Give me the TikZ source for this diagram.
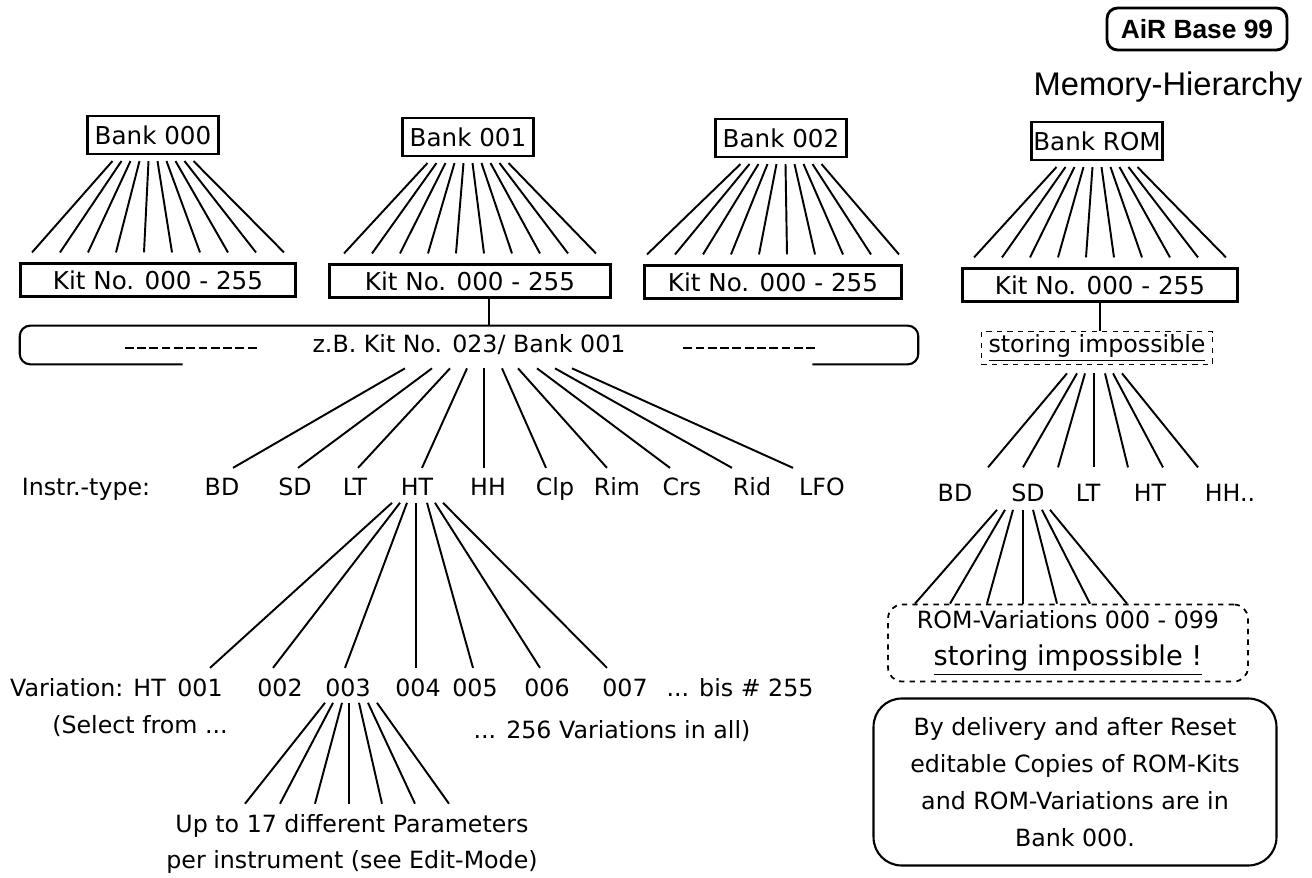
\documentclass[tikz,border=0pt]{standalone}
\usepackage{fontspec}
\setmainfont{DejaVu Sans}
\newfontfamily\headfont{Liberation Sans}
\usetikzlibrary{calc}

\begin{document}
\begin{tikzpicture}[x=0.02cm, y=-0.02cm,
    every node/.style={font=\fontsize{13.5}{21}\selectfont},
    bankbox/.style={draw, line width=1.2pt, minimum width=2.62cm, minimum height=0.76cm, inner sep=0pt, font=\fontsize{14}{16}\selectfont},
    kitbox/.style={draw, line width=1.2pt, minimum width=5.5cm, minimum height=0.66cm, inner sep=0pt, font=\fontsize{14}{16}\selectfont},
    tag/.style={inner sep=0pt, outer ysep=6pt, text height=10pt, text depth=3pt, anchor=base},
    fan/.style={line width=1.1pt},
    dots/.style={line width=0.9pt, dash pattern=on 5pt off 2pt}]
    \useasboundingbox (0,0) rectangle (1312,878);

    % Title
    \node[draw, line width=1.6pt, rounded corners=6pt, minimum width=3.6cm, minimum height=0.84cm, inner sep=0pt, font=\headfont\bfseries\fontsize{15}{18}\selectfont] (title) at (1197,29) {AiR Base 99};
    \node[font=\headfont\fontsize{18.6}{20}\selectfont] (subtitle) at (1168,87) {Memory-Hierarchy};

    % Banks
    \node[bankbox] (b0) at (153,135) {Bank 000};
    \node[bankbox] (b1) at (468,137) {Bank 001};
    \node[bankbox] (b2) at (781,138) {Bank 002};
    \node[bankbox] (brom) at (1097,141) {Bank ROM};

    % Kits
    \node[kitbox] (k0) at (158,280) {Kit No. 000 - 255};
    \node[kitbox, minimum width=5.62cm] (k1) at (470,281) {Kit No. 000 - 255};
    \node[kitbox, minimum width=5.14cm] (k2) at (773,282) {Kit No. 000 - 255};
    \node[kitbox] (krom) at (1100,285) {Kit No. 000 - 255};

    % ten lines from every bank to its kits
    \foreach \b/\k in {b0/k0, b1/k1, b2/k2, brom/krom}
      \foreach \i in {0,...,9}
        \draw[fan] ($(\b.south)+({(\i-4.5)*9},6)$) -- ($(\k.north)+({(\i-4.5)*28},-10)$);

    % Example kit
    \node[minimum width=17.96cm, minimum height=0.76cm, inner sep=0pt] (zb) at (469,345) {z.B. Kit No. 023/ Bank 001};
    \draw[line width=1.2pt, rounded corners=6pt] ($(zb.south west)+(163,0)$) -| (zb.north west) -| (zb.south east) -- ($(zb.south east)+(-106,0)$);
    \draw[dots] ($(zb.west)+(105,3)$) -- ++(132,0);
    \draw[dots] ($(zb.east)+(-235,3)$) -- ++(134,0);
    \draw[fan] ($(k1.south)+(19,0)$) coordinate (kz) -- (kz |- zb.north);

    % Instrument types
    \node[tag] (itype) at (86,496) {Instr.-type:};
    \node[tag] (bd) at (222,496) {BD};
    \node[tag] (sd) at (295,496) {SD};
    \node[tag] (lt) at (355,496) {LT};
    \node[tag] (ht) at (417,496) {HT};
    \node[tag] (hh) at (488,496) {HH};
    \node[tag] (clp) at (555,496) {Clp};
    \node[tag] (rim) at (617,496) {Rim};
    \node[tag] (crs) at (682,496) {Crs};
    \node[tag] (rid) at (752,496) {Rid};
    \node[tag] (lfo) at (822,496) {LFO};
    \foreach \dx/\t/\ex in {-64/bd/11, -37/sd/3, -19/lt/3, -2/ht/5, 15/hh/-4, 33/clp/-9, 49/rim/-10, 68/crs/-12, 86/rid/-20, 103/lfo/-29}
      \draw[fan] ($(zb.south)+(\dx,4)$) -- ($(\t.north)+(\ex,0)$);

    % Variations of HT
    \node[tag] (vname) at (88,696) {Variation: HT};
    \node[tag] (v1) at (200,696) {001};
    \node[tag] (v2) at (280,696) {002};
    \node[tag] (v3) at (348,696) {003};
    \node[tag] (v4) at (418,696) {004};
    \node[tag] (v5) at (475,696) {005};
    \node[tag] (v6) at (547,696) {006};
    \node[tag] (v7) at (625,696) {007};
    \node[tag] (vend) at (740,696) {... bis \# 255};
    \node[tag] (vsel) at (140,733) {(Select from ...};
    \node[tag] (vall) at (612,738) {... 256 Variations in all)};
    \foreach \dx/\t/\ex in {-25/v1/10, -17/v2/-7, -10/v3/-3, -1/v4/-2, 10/v5/-2, 18/v6/-7, 26/v7/-18}
      \draw[fan] ($(ht.south)+(\dx,-9)$) -- ($(\t.north)+(\ex,0)$);

    % Parameters
    \node[align=center, inner sep=0pt] (prm) at (352,844) {Up to 17 different Parameters\\per instrument (see Edit-Mode)};
    \foreach \dx/\ex in {-23/-107, -15/-72, -6/-37, 1/-3, 11/30, 20/63, 29/97}
      \draw[fan] ($(v3.south)+(\dx,-9)$) -- ($(prm.north)+(\ex,-10)$);

    % ROM side
    \node[draw, dashed, line width=1pt, minimum width=4.62cm, minimum height=0.66cm, inner sep=0pt] (stor) at (1097,348) {\underline{storing impossible}};
    \draw[fan] (krom.south) -- (krom.south |- stor.north);
    \foreach \dx/\ex in {-30/-109, -20/-74, -12/-39, -3/-3, 8/31, 16/66, 25/101}
      \draw[fan] ($(stor.south)+(\dx,8)$) -- ($(stor.south)+(\ex,102)$);

    \node[tag] (rbd) at (955,501) {BD};
    \node[tag] (rsd) at (1028,501) {SD};
    \node[tag] (rlt) at (1088,501) {LT};
    \node[tag] (rht) at (1150,501) {HT};
    \node[tag] (rhh) at (1230,501) {HH..};

    \node[draw, dashed, line width=1pt, rounded corners=8pt, minimum width=7.2cm, minimum height=1.54cm, align=center, inner sep=0pt] (rvar) at (1068,643) {ROM-Variations 000 - 099\\{\fontsize{15.5}{18}\selectfont\underline{storing impossible !}}};
    \foreach \dx/\ex in {-31/-153, -23/-118, -15/-81, -5/-45, 5/-11, 14/22, 22/59}
      \draw[fan] ($(rsd.south)+(\dx,-7)$) -- ($(rvar.north)+(\ex,0)$);

    \node[draw, line width=1.2pt, rounded corners=16pt, minimum width=8.06cm, minimum height=3.34cm, align=center, inner sep=0pt] (note) at (1075,782) {By delivery and after Reset\\editable Copies of ROM-Kits\\and ROM-Variations are in\\Bank 000.};
\end{tikzpicture}
\end{document}
